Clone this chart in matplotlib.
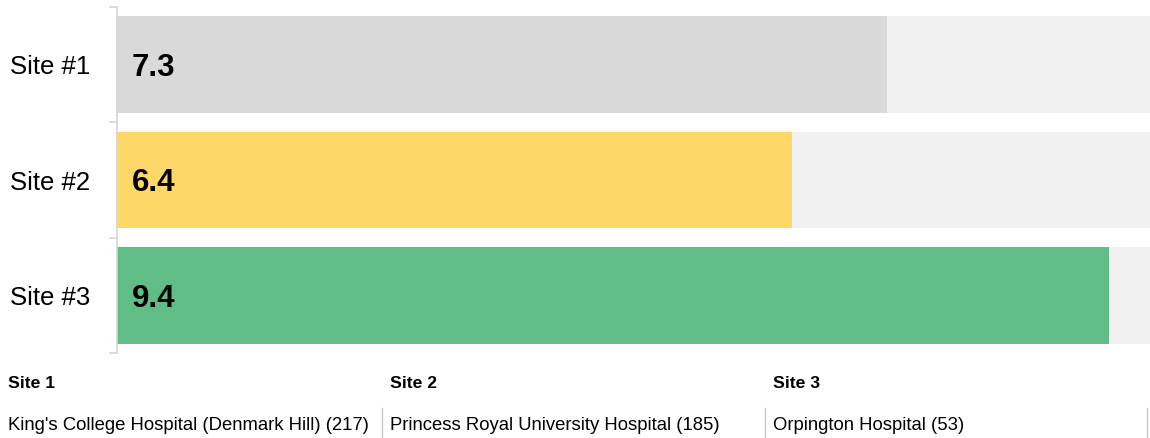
import matplotlib
matplotlib.use("Agg")
import matplotlib.pyplot as plt
from matplotlib.lines import Line2D

plt.rcParams["font.family"] = ["Liberation Sans", "DejaVu Sans"]

# scores per site (out of 10)
sites = ["Site #1", "Site #2", "Site #3"]
scores = [7.3, 6.4, 9.4]
max_score = 10
bar_colors = ["#d9d9d9", "#fdd868", "#60bd85"]

# footer: site key and hospital names (n)
site_keys = ["Site 1", "Site 2", "Site 3"]
hospitals = ["King's College Hospital (Denmark Hill) (217)",
             "Princess Royal University Hospital (185)",
             "Orpington Hospital (53)"]

W, H = 1150, 438
fig = plt.figure(figsize=(W / 100, H / 100), dpi=100)

# axes spans past the right edge so the track ends off-canvas
ax_l, ax_r, ax_t, ax_b = 117, 1172, 7, 353
ax = fig.add_axes([ax_l / W, 1 - ax_b / H, (ax_r - ax_l) / W, (ax_b - ax_t) / H])

ypos = list(range(len(sites)))
ax.barh(ypos, [max_score] * len(sites), height=0.84, color="#f1f1f1", zorder=1)
ax.barh(ypos, scores, height=0.84, color=bar_colors, zorder=2)
for y, v in zip(ypos, scores):
    ax.text(0.14, y + 0.03, f"{v:.1f}", ha="left", va="center", fontsize=22.5,
            fontweight="bold", color="#000000", zorder=3)

ax.set_xlim(0, max_score)
ax.set_ylim(len(sites) - 0.5, -0.5)
ax.set_yticks(ypos, sites, fontsize=18.5)
ax.set_yticks([y - 0.5 for y in ypos] + [len(sites) - 0.5], minor=True)
ax.tick_params(axis="y", which="major", length=0, pad=19)
ax.tick_params(axis="y", which="minor", length=6, width=1.2, color="#d6d6d6")
ax.set_xticks([])
for s in ("top", "right", "bottom"):
    ax.spines[s].set_visible(False)
ax.spines["left"].set_color("#d6d6d6")
ax.spines["left"].set_linewidth(1.2)
ax.set_facecolor("none")

# footer table
col_w = 382.5
for i, (key, name) in enumerate(zip(site_keys, hospitals)):
    x0 = 8 + i * col_w
    fig.text(x0 / W, 1 - 383 / H, key, ha="left", va="center", fontsize=12.6,
             fontweight="bold", color="#000000")
    fig.text(x0 / W, 1 - 426 / H, name, ha="left", va="center", fontsize=13.3,
             color="#000000")
    xs = (i + 1) * col_w - 0.5
    fig.add_artist(Line2D([xs / W, xs / W], [1 - 408 / H, 0], color="#c8c8c8",
                          lw=1, transform=fig.transFigure))

fig.savefig("out.png", dpi=100, facecolor="white")
